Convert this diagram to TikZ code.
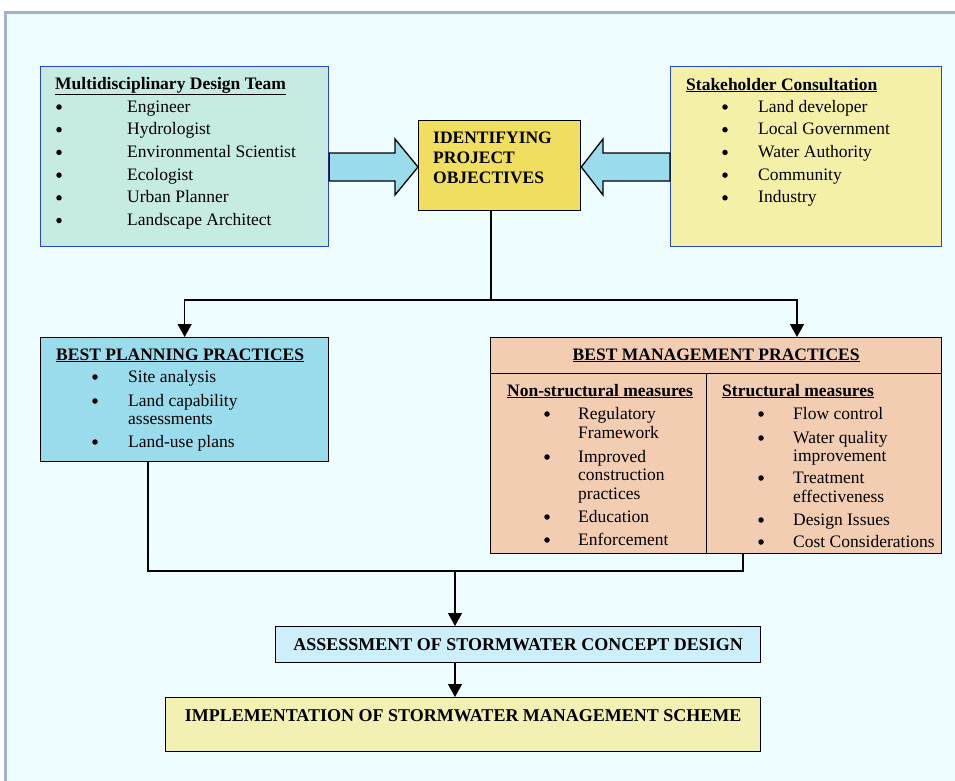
\documentclass[tikz,border=0pt]{standalone}
\usepackage{fontspec}
\setmainfont{Liberation Serif}
\usetikzlibrary{positioning,arrows.meta,calc}

\definecolor{framebg}{HTML}{EEFDFF}
\definecolor{framecol}{HTML}{A3B1CF}
\definecolor{teamfill}{HTML}{C6EBE3}
\definecolor{stakefill}{HTML}{F4F0A8}
\definecolor{objfill}{HTML}{F0DE60}
\definecolor{arrowfill}{HTML}{9ADCEC}
\definecolor{bppfill}{HTML}{9ADCEC}
\definecolor{bmpfill}{HTML}{F2CDB2}
\definecolor{assessfill}{HTML}{CDEEFB}
\definecolor{implfill}{HTML}{F2F0B2}
\definecolor{boxblue}{HTML}{2448C8}

\begin{document}
\begin{tikzpicture}[x=1pt, y=-1pt,
        box/.style={draw, line width=1.3pt, inner sep=0pt, anchor=north west},
        item/.style={anchor=base west, inner sep=0pt, font=\fontsize{17.5}{21}\selectfont},
        head/.style={item, font=\fontsize{17.5}{21}\selectfont\bfseries},
        dot/.style={circle, fill, inner sep=0pt, minimum size=5.5pt, yshift=5pt},
        link/.style={line width=1.3pt},
        arr/.style={link, -{Triangle[width=14pt, length=13pt]}},
        blockarrow/.style={draw, line width=1.3pt, fill=arrowfill}
    ]

        \useasboundingbox (0,0) rectangle (955,780);
        \clip (0,0) rectangle (955,780);
        \draw[line width=3pt, draw=framecol, fill=framebg] (5,12) rectangle (975,800);

        % top row
        \node[box, draw=boxblue, fill=teamfill, minimum width=288pt, minimum height=180pt] (team) at (40,66) {};
        \node[box, fill=objfill, minimum width=162pt, minimum height=90pt] (obj) at (418,120) {};
        \node[box, draw=boxblue, fill=stakefill, minimum width=271pt, minimum height=180pt] (stake) at (670,66) {};

        \node[head] (team-title) at (55,89) {\underline{Multidisciplinary Design Team}};
        \foreach \t [count=\i from 0] in {Engineer, Hydrologist, Environmental Scientist, Ecologist, Urban Planner, Landscape Architect} {
            \node[dot] (team-dot-\i) at (59, {112+22.7*\i}) {};
            \node[item] (team-\i) at (127, {112+22.7*\i}) {\t};
        }

        \node[head] (stake-title) at (686,90) {\underline{Stakeholder Consultation}};
        \foreach \t [count=\i from 0] in {Land developer, Local Government, Water Authority, Community, Industry} {
            \node[dot] (stake-dot-\i) at (725, {112+22.7*\i}) {};
            \node[item] (stake-\i) at (758, {112+22.7*\i}) {\t};
        }

        \foreach \t [count=\i from 0] in {IDENTIFYING, PROJECT, OBJECTIVES}
            \node[head] (obj-\i) at (433, {143+20*\i}) {\t};

        % big arrows into the objectives
        \draw[blockarrow] (team.east |- 0,153) -- (395,153) -- (395,139) -- (obj.west |- 0,167)
            -- (395,195) -- (395,181) -- (team.east |- 0,181) -- cycle;
        \draw[blockarrow] (stake.west |- 0,153) -- (603,153) -- (603,139) -- (obj.east |- 0,167)
            -- (603,195) -- (603,181) -- (stake.west |- 0,181) -- cycle;

        % practices
        \node[box, fill=bppfill, minimum width=288pt, minimum height=124pt] (bpp) at (40,337) {};
        \node[box, fill=bmpfill, minimum width=451pt, minimum height=36pt] (bmphead) at (490,337) {};
        \node[box, fill=bmpfill, minimum width=216pt, minimum height=180pt] (bmpnon) at (490,373) {};
        \node[box, fill=bmpfill, minimum width=235pt, minimum height=180pt] (bmpstr) at (706,373) {};

        \node[head] (bpp-title) at (56,360) {\underline{BEST PLANNING PRACTICES}};
        \foreach \y in {382,406,447}
            \node[dot] (bpp-dot-\y) at (95,\y) {};
        \foreach \y/\t in {382/Site analysis, 406/Land capability, 424/assessments, 447/Land-use plans}
            \node[item] (bpp-\y) at (128,\y) {\t};

        \node[head, anchor=base] (bmp-title) at (bmphead.center |- 0,360) {\underline{BEST MANAGEMENT PRACTICES}};

        \node[head] (non-title) at (507,396) {\underline{Non-structural measures}};
        \foreach \y in {419,462,522,545}
            \node[dot] (non-dot-\y) at (547,\y) {};
        \foreach \y/\t in {419/Regulatory, 438/Framework, 462/Improved, 480/construction, 499/practices, 522/Education, 545/Enforcement}
            \node[item] (non-\y) at (578,\y) {\t};

        \node[head] (str-title) at (722,396) {\underline{Structural measures}};
        \foreach \y in {419,443,483,525,547}
            \node[dot] (str-dot-\y) at (761,\y) {};
        \foreach \y/\t in {419/Flow control, 443/Water quality, 461/improvement, 483/Treatment, 502/effectiveness, 525/Design Issues, 547/Cost Considerations}
            \node[item] (str-\y) at (793,\y) {\t};

        % bottom
        \node[box, fill=assessfill, minimum width=485pt, minimum height=36pt] (assess) at (275,626) {};
        \node[box, fill=implfill, minimum width=595pt, minimum height=54pt] (impl) at (165,697) {};
        \node[head, anchor=base, font=\fontsize{18}{21}\selectfont\bfseries] (assess-text) at (assess.center |- 0,650) {ASSESSMENT OF STORMWATER CONCEPT DESIGN};
        \node[head, anchor=base, font=\fontsize{18}{21}\selectfont\bfseries] (impl-text) at (impl.center |- 0,721) {IMPLEMENTATION OF STORMWATER MANAGEMENT SCHEME};

        % connectors
        \coordinate (split) at (491,300);
        \coordinate (bmpin) at (797,337);
        \coordinate (bppout) at (148,461);
        \coordinate (bmpout) at (743,553);
        \coordinate (join) at (455,571);

        \draw[link] (split |- obj.south) -- (split);
        \draw[arr] (split) -| (bpp.north);
        \draw[arr] (split) -| (bmpin);
        \draw[link] (bppout) |- (join) -| (bmpout);
        \draw[arr] (join) -- (join |- assess.north);
        \draw[arr] (join |- assess.south) -- (join |- impl.north);

    \end{tikzpicture}
\end{document}
